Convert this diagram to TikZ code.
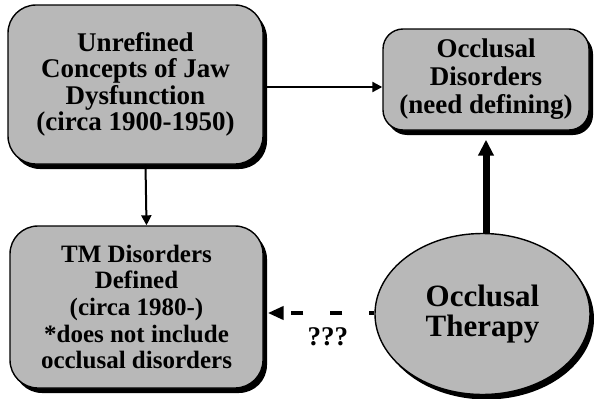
\documentclass[tikz,border=0pt]{standalone}
\usepackage{fontspec}
\setmainfont{Liberation Serif}
\usetikzlibrary{shapes.geometric,shadows,arrows.meta}

\begin{document}
\begin{tikzpicture}[x=1pt,y=-1pt,font=\bfseries,
  shade box/.style={draw=black, line width=1.4pt, fill=black!28, align=center, inner sep=0pt,
    drop shadow={shadow xshift=4pt, shadow yshift=-5pt, fill=black, opacity=1}},
  link/.style={draw=black, -{Triangle[length=10pt,width=10pt]}}]

\useasboundingbox (0,0) rectangle (595,399);

\begin{scope}
%\draw[help lines] (0,0) grid[step=25] (595,399);
\node[shade box, rounded corners=28pt, minimum width=255pt, minimum height=159pt,
  font=\bfseries\fontsize{27}{26.5}\selectfont]
  (unrefined) at (135.5,84.5) {Unrefined\\Concepts of Jaw\\Dysfunction\\(circa 1900-1950)};
\node[shade box, rounded corners=20pt, minimum width=206pt, minimum height=101pt,
  font=\bfseries\fontsize{27}{28}\selectfont]
  (occdis) at (486,79.5) {Occlusal\\Disorders\\(need defining)};
\node[shade box, rounded corners=28pt, minimum width=253pt, minimum height=162pt,
  font=\bfseries\fontsize{25}{26.7}\selectfont]
  (tmd) at (136.5,307) {TM Disorders\\Defined\\(circa 1980-)\\*does not include\\occlusal disorders};
\node[shade box, ellipse, minimum width=215pt, minimum height=161pt,
  font=\bfseries\fontsize{31}{30}\selectfont]
  (therapy) at (482.5,314) {Occlusal\\Therapy};

\draw[link, line width=2.2pt] (unrefined.east |- 0,87) -- (occdis.west |- 0,87);
\draw[link, line width=2pt] ([xshift=10pt]unrefined.south) -- ([xshift=10pt]tmd.north);
\draw[line width=7pt, -{Triangle[length=16pt,width=15pt]}, shorten >=9pt]
  (occdis.south |- therapy.north) -- (occdis.south);
\draw[line width=4.5pt, dash pattern=on 12pt off 27pt, dash phase=7pt,
  -{Triangle[length=16pt,width=13pt]}, shorten >=4pt]
  (therapy.west |- 0,313) -- (tmd.east |- 0,313)
  node[pos=0.42, below=9pt, font=\bfseries\fontsize{27}{27}\selectfont] (qmarks) {???};
\end{scope}

\end{tikzpicture}
\end{document}
